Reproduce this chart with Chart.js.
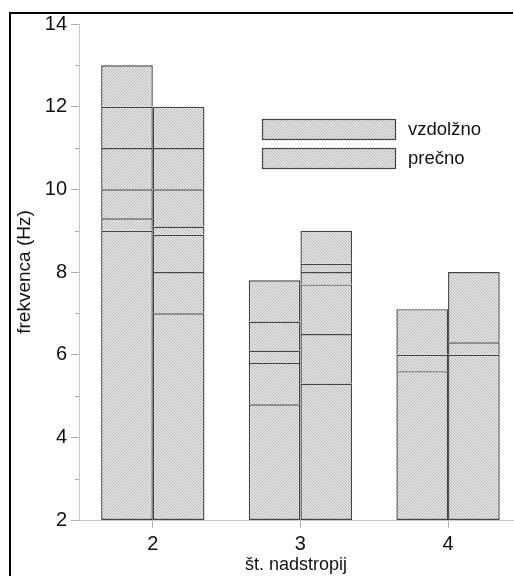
<!DOCTYPE html>
<html>
<head>
<meta charset="utf-8">
<script src="https://cdn.jsdelivr.net/npm/chart.js@4"></script>
<style>
  html, body { margin: 0; padding: 0; background: #fff; }
  #wrap { width: 514px; height: 576px; position: relative; }
</style>
</head>
<body>
<div id="wrap"><canvas id="chart"></canvas></div>
<script>
// floors (x categories) and the measured mode frequencies for each direction
const floors = [2, 3, 4];
const vzdolzno = [
  [9.0, 9.3, 10, 11, 12, 13],
  [4.8, 5.8, 6.1, 6.8, 7.8],
  [5.6, 6.0, 7.1],
];
const precno = [
  [7.0, 8.0, 8.9, 9.1, 10, 11, 12],
  [5.3, 6.5, 7.7, 8.0, 8.2, 9.0],
  [6.0, 6.3, 8.0],
];
const seriesNames = ["vzdolžno", "prečno"];
const yMin = 2;
const yMax = 14;

const FONT = "'Liberation Sans', Arial, sans-serif";

function makeHatch(dir) {
  const s = 3;
  const c = document.createElement("canvas");
  c.width = s;
  c.height = s;
  const g = c.getContext("2d");
  g.fillStyle = "#e4e4e4";
  g.fillRect(0, 0, s, s);
  g.strokeStyle = "#b0b0b0";
  g.lineWidth = 0.9;
  g.beginPath();
  if (dir > 0) {
    g.moveTo(0, s); g.lineTo(s, 0);
    g.moveTo(-1, 1); g.lineTo(1, -1);
    g.moveTo(s - 1, s + 1); g.lineTo(s + 1, s - 1);
  } else {
    g.moveTo(0, 0); g.lineTo(s, s);
    g.moveTo(-1, s - 1); g.lineTo(1, s + 1);
    g.moveTo(s - 1, -1); g.lineTo(s + 1, 1);
  }
  g.stroke();
  return g.createPattern(c, "repeat");
}

const hatches = [makeHatch(1), makeHatch(-1)];
const edgeColor = "#444444";

// one floating bar per level, stacked by direction so segments sit on top of each other
function buildDatasets(series, stackId, pattern) {
  const maxLevels = Math.max(...series.map((s) => s.length));
  const sets = [];
  for (let k = 0; k < maxLevels; k++) {
    const data = [];
    floors.forEach((floor, i) => {
      const levels = series[i];
      if (k < levels.length) {
        const lo = k === 0 ? yMin : levels[k - 1];
        data.push({ x: floor, y: [lo, levels[k]] });
      }
    });
    sets.push({
      label: stackId + k,
      stack: stackId,
      data: data,
      backgroundColor: pattern,
      borderColor: edgeColor,
      borderWidth: 1.4,
      // only the lowest segment keeps its bottom edge, so dividers are single lines
      borderSkipped: k === 0 ? false : "bottom",
    });
  }
  return sets;
}

const datasets = [
  ...buildDatasets(vzdolzno, "v", hatches[0]),
  ...buildDatasets(precno, "p", hatches[1]),
];

const extrasPlugin = {
  id: "extras",
  afterDraw(chart) {
    const ctx = chart.ctx;
    const y = chart.scales.y;
    ctx.save();
    // minor ticks on the y axis
    ctx.strokeStyle = "#aaaaaa";
    ctx.lineWidth = 1;
    for (let v = yMin + 1; v < yMax; v += 2) {
      const py = Math.round(y.getPixelForValue(v)) + 0.5;
      ctx.beginPath();
      ctx.moveTo(y.right - 4, py);
      ctx.lineTo(y.right, py);
      ctx.stroke();
    }
    // legend inside the plot area
    const area = chart.chartArea;
    const bx = area.left + 183;
    const bw = 134;
    const bh = 21;
    const rows = [area.top + 95, area.top + 124];
    ctx.font = "18.5px " + FONT;
    ctx.textBaseline = "middle";
    ctx.textAlign = "left";
    rows.forEach((ty, i) => {
      ctx.fillStyle = hatches[i];
      ctx.fillRect(bx, ty, bw, bh);
      ctx.strokeStyle = edgeColor;
      ctx.lineWidth = 1.2;
      ctx.strokeRect(bx + 0.5, ty + 0.5, bw - 1, bh - 1);
      ctx.fillStyle = "#111";
      ctx.fillText(seriesNames[i], bx + bw + 12, ty + bh / 2);
    });
    // frame (top and left)
    ctx.fillStyle = "#000";
    ctx.fillRect(9, 12, 504, 2);
    ctx.fillRect(9, 12, 2, chart.height - 12);
    ctx.restore();
  },
};

new Chart(document.getElementById("chart"), {
  type: "bar",
  data: { datasets: datasets },
  options: {
    responsive: true,
    maintainAspectRatio: false,
    animation: false,
    categoryPercentage: 0.7,
    barPercentage: 1.0,
    layout: { padding: { top: 24, right: 1, left: 0, bottom: 0 } },
    plugins: {
      legend: { display: false },
      tooltip: { enabled: false },
    },
    scales: {
      x: {
        type: "linear",
        stacked: true,
        offset: false,
        min: 1.5,
        max: 4.44,
        afterBuildTicks: (scale) => {
          scale.ticks = floors.map((f) => ({ value: f }));
        },
        afterFit: (scale) => {
          scale.height = 56;
        },
        ticks: {
          font: { family: FONT, size: 20 },
          color: "#111",
          padding: 4,
          maxRotation: 0,
        },
        grid: {
          offset: false,
          drawOnChartArea: false,
          tickLength: 8,
          tickColor: "#b0b0b0",
        },
        border: { color: "#c8c8c8" },
        title: {
          display: true,
          text: "št. nadstropij",
          font: { family: FONT, size: 18 },
          color: "#111",
          padding: { top: 0, bottom: 0 },
        },
      },
      y: {
        stacked: false,
        min: yMin,
        max: yMax,
        afterFit: (scale) => {
          scale.width = 79;
        },
        ticks: {
          stepSize: 2,
          font: { family: FONT, size: 20 },
          color: "#111",
          padding: 4,
        },
        grid: {
          drawOnChartArea: false,
          tickLength: 8,
          tickColor: "#b0b0b0",
        },
        border: { color: "#c8c8c8" },
        title: {
          display: true,
          text: "frekvenca (Hz)",
          font: { family: FONT, size: 19 },
          color: "#111",
          padding: { top: 13, bottom: 0 },
        },
      },
    },
  },
  plugins: [extrasPlugin],
});
</script>
</body>
</html>
